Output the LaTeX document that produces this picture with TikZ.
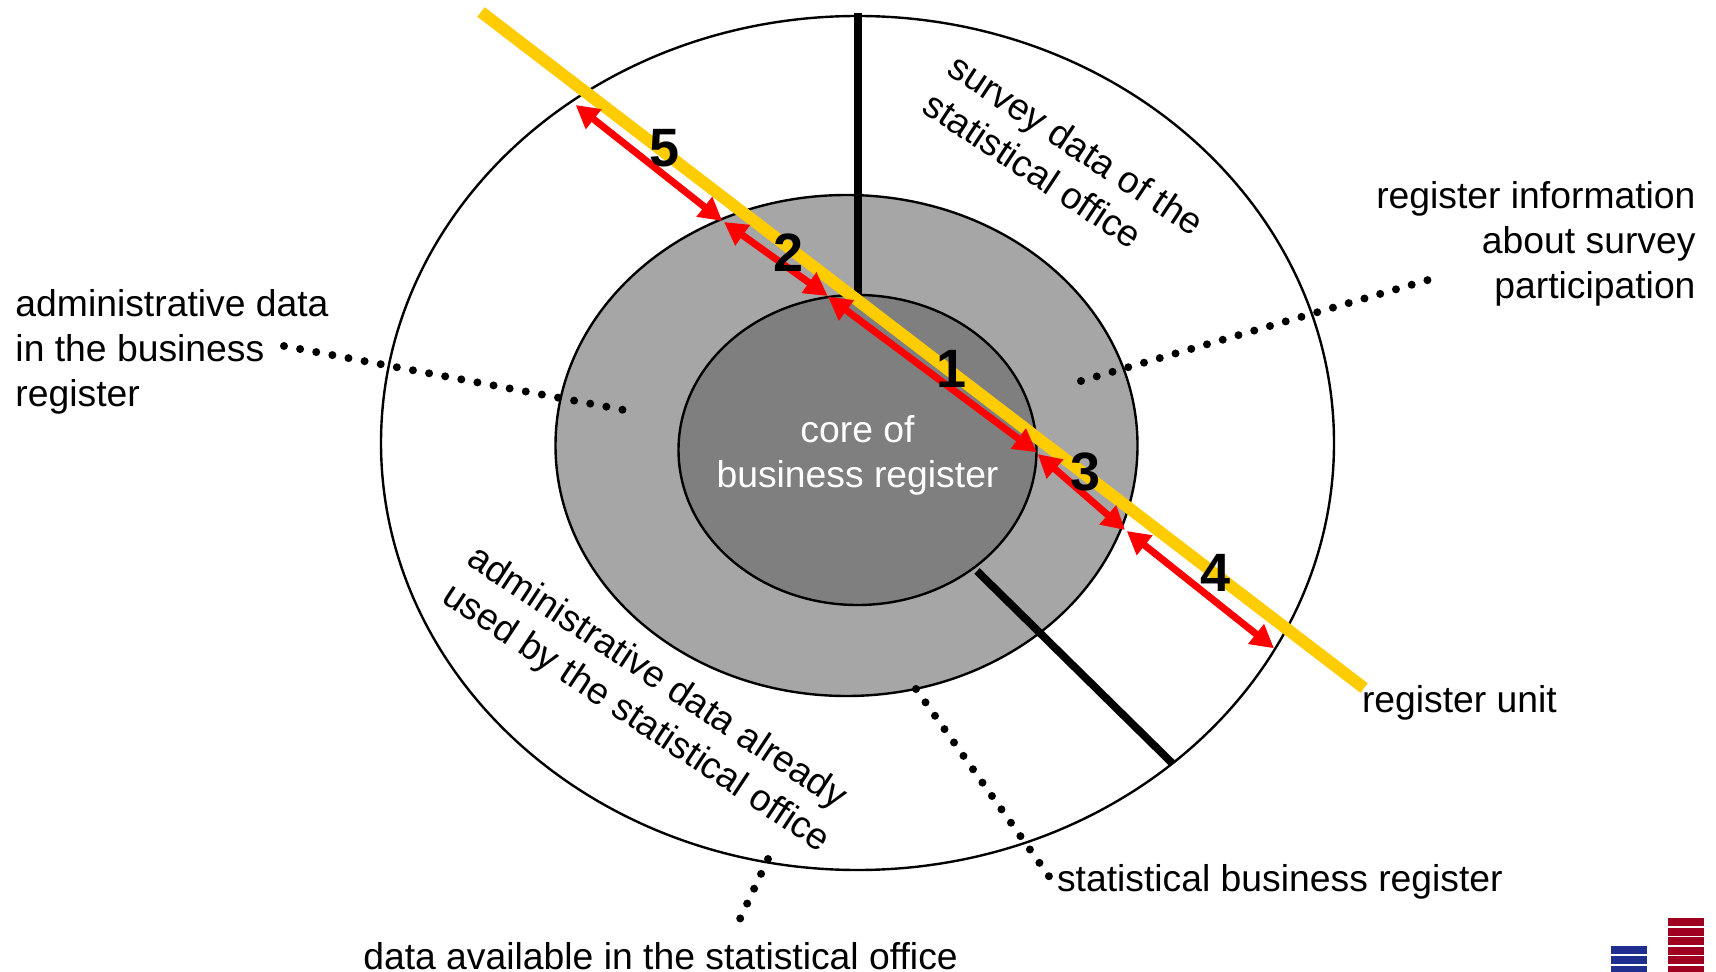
\documentclass[tikz,border=0pt]{standalone}
\usepackage{fontspec}
\setmainfont{Liberation Sans}
\usetikzlibrary{shapes.geometric,arrows.meta}
\definecolor{midgray}{HTML}{A6A6A6}
\definecolor{coregray}{HTML}{7F7F7F}
\definecolor{unityellow}{HTML}{FFCC00}
\definecolor{logoblue}{HTML}{1F2F8F}
\definecolor{logored}{HTML}{A00020}
\tikzset{
  ring/.style={ellipse,draw=black,line width=1.2pt,inner sep=0pt,outer sep=0pt},
  lab/.style={font=\fontsize{18.65}{22.5}\selectfont,inner sep=0pt,outer sep=0pt,black},
  num/.style={font=\fontsize{27}{30}\selectfont\bfseries,inner sep=0pt,black},
  divider/.style={line width=3.9pt,black},
  dotline/.style={line width=4pt,black,line cap=round,dash pattern=on 0pt off 8.2pt},
  unitline/.style={line width=6pt,unityellow},
  span/.style={line width=3.5pt,red,{Triangle[length=11.5pt,width=12pt]}-{Triangle[length=11.5pt,width=12pt]}},
}
\begin{document}
\begin{tikzpicture}[x=0.5pt,y=-0.5pt]
\useasboundingbox[fill=white] (0,0) rectangle (1716,972);
% ellipses
\node[ring,fill=white,minimum width=476.5pt,minimum height=427pt] (outer) at (857.5,443) {};
\node[ring,fill=midgray,minimum width=291pt,minimum height=250.5pt] (middle) at (846.5,445.5) {};
\node[ring,fill=coregray,minimum width=179pt,minimum height=155pt] (core) at (857.5,450) {};
% dividers
\coordinate (d1a) at (858,13);
\coordinate (d1b) at (858,296);
\coordinate (d2a) at (977,571);
\coordinate (d2b) at (1172,763);
\draw[divider] (d1a) -- (d1b);
\draw[divider] (d2a) -- (d2b);
% labels
\node[lab,fill=none,text=white,align=center] (corelab) at (857.5,455.5) {core of\\business register};
\node[lab,align=left,anchor=west] (adminbr) at (15.5,351.5) {administrative data\\in the business\\register};
\node[lab,align=right,anchor=east] (partic) at (1695.5,244) {register information\\about survey\\participation};
\node[lab,anchor=west] (regunit) at (1362,703) {register unit};
\node[lab,anchor=west] (sbr) at (1057,882) {statistical business register};
\node[lab,anchor=center] (avail) at (660.5,956) {data available in the statistical office};
\node[lab,align=left,rotate=-33.5] (survey) at (1064,163) {survey data of the\\statistical office};
\node[lab,align=left,rotate=-33.5] (adminused) at (648,700) {administrative data already\\used by the statistical office};
% dotted leaders
\coordinate (l1a) at (284,346);
\coordinate (l1b) at (624,410);
\coordinate (l2a) at (1081,381);
\coordinate (l2b) at (1428,280);
\coordinate (l3a) at (916,689);
\coordinate (l3b) at (1053,882);
\coordinate (l4a) at (768,859);
\coordinate (l4b) at (739,921);
\draw[dotline] (l1a) -- (l1b);
\draw[dotline] (l2a) -- (l2b);
\draw[dotline] (l3a) -- (l3b);
\draw[dotline] (l4a) -- (l4b);
% register unit line
\coordinate (ua) at (481,12);
\coordinate (ub) at (1364,688);
\draw[unitline] (ua) -- (ub);
% red spans
\coordinate (r5a) at (575.7,105);
\coordinate (r5b) at (722.3,221);
\coordinate (r2a) at (724,222);
\coordinate (r2b) at (827.7,296);
\coordinate (r1a) at (828,296.7);
\coordinate (r1b) at (1036.7,452.3);
\coordinate (r3a) at (1037.7,454);
\coordinate (r3b) at (1125,530);
\coordinate (r4a) at (1126.7,531);
\coordinate (r4b) at (1274,648.3);
\draw[span] (r5a) -- (r5b);
\draw[span] (r2a) -- (r2b);
\draw[span] (r1a) -- (r1b);
\draw[span] (r3a) -- (r3b);
\draw[span] (r4a) -- (r4b);
% numbers
\node[num] (n5) at (665,148) {5};
\node[num] (n2) at (789,253) {2};
\node[num] (n1) at (951,369) {1};
\node[num] (n3) at (1085,472) {3};
\node[num] (n4) at (1215,573) {4};
% logo
\foreach \y in {946,956,966} \fill[logoblue] (1611,\y) rectangle (1647,{min(\y+8,972)});
\foreach \y in {918,927.6,937.2,946.8,956.4,966} \fill[logored] (1668,\y) rectangle (1704,{min(\y+8,972)});
\end{tikzpicture}
\end{document}
